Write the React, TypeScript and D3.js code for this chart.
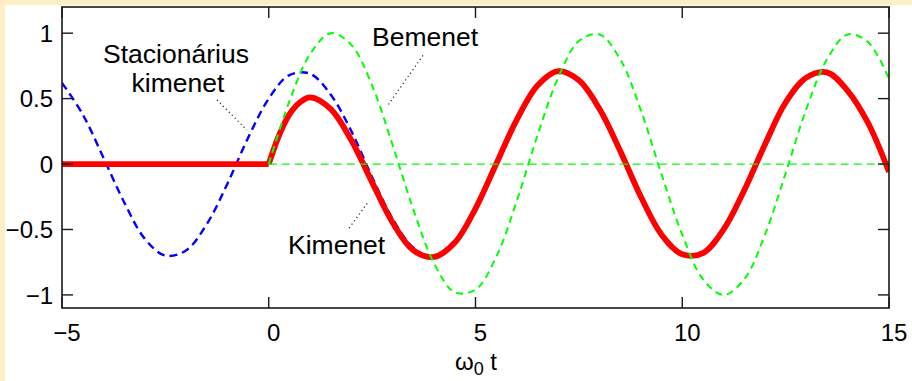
import React from "react";
import * as d3 from "d3";

// Time axis samples (ω0·t) for the steady-state response
const T_STEADY = [
  -5, -4.5, -4, -3.5, -3, -2.5, -2, -1.5, -1, -0.5, 0, 0.5, 1, 1.5, 2, 2.5, 3, 3.5, 4, 4.5,
  5, 5.5, 6, 6.5, 7, 7.5, 8, 8.5, 9, 9.5, 10, 10.5, 11, 11.5, 12, 12.5, 13, 13.5, 14, 14.5, 15,
];
// Stacionárius kimenet (blue dashed)
const STEADY = [
  0.62, 0.38, 0.05, -0.29, -0.57, -0.7, -0.66, -0.46, -0.15, 0.2, 0.5, 0.68, 0.69, 0.53, 0.25,
  -0.1, -0.42, -0.64, -0.71, -0.59, -0.34, 0.0, 0.34, 0.6, 0.71, 0.64, 0.42, 0.1, -0.25, -0.54,
  -0.69, -0.68, -0.5, -0.2, 0.15, 0.47, 0.66, 0.7, 0.56, 0.31, -0.06,
];

// Bemenet (green dashed), switched on at t = 0
const T_INPUT = [
  0, 0.5, 1, 1.5, 2, 2.5, 3, 3.5, 4, 4.5, 5, 5.5, 6, 6.5, 7, 7.5, 8, 8.5, 9, 9.5, 10, 10.5, 11,
  11.5, 12, 12.5, 13, 13.5, 14, 14.5, 15,
];
const INPUT = [
  0, 0.48, 0.84, 1.0, 0.91, 0.6, 0.14, -0.35, -0.76, -0.98, -0.96, -0.71, -0.28, 0.22, 0.66,
  0.94, 0.99, 0.8, 0.41, -0.08, -0.54, -0.88, -1.0, -0.88, -0.54, -0.07, 0.42, 0.8, 0.99, 0.93,
  0.65,
];

// Kimenet (red, thick)
const T_OUTPUT = [
  -5, 0, 0.25, 0.5, 0.75, 1, 1.5, 2, 2.5, 3, 3.5, 4, 4.5, 5, 5.5, 6, 6.5, 7, 7.5, 8, 8.5, 9, 9.5,
  10, 10.5, 11, 11.5, 12, 12.5, 13, 13.5, 14, 14.5, 15,
];
const OUTPUT = [
  0, 0, 0.22, 0.38, 0.47, 0.51, 0.42, 0.18, -0.14, -0.45, -0.66, -0.71, -0.6, -0.34, 0.0, 0.34,
  0.6, 0.71, 0.64, 0.42, 0.1, -0.25, -0.54, -0.69, -0.68, -0.5, -0.2, 0.15, 0.47, 0.66, 0.7, 0.56,
  0.31, -0.06,
];

const X_TICKS = [-5, 0, 5, 10, 15];
const X_TICK_LABELS = ["\u22125", "0", "5", "10", "15"];
const Y_TICKS = [-1, -0.5, 0, 0.5, 1];
const Y_TICK_LABELS = ["\u22121", "\u22120.5", "0", "0.5", "1"];

const W = 912;
const H = 381;
const FONT = "'Liberation Sans', Arial, Helvetica, sans-serif";

export default function App() {
  const left = 62;
  const right = 889;
  const top = 7;
  const bottom = 308;

  const x = d3.scaleLinear().domain([-5, 15]).range([left, right]);
  const y = d3.scaleLinear().domain([-1.1, 1.2]).range([bottom, top]);

  const smooth = d3
    .line<[number, number]>()
    .x((d) => x(d[0]))
    .y((d) => y(d[1]))
    .curve(d3.curveCatmullRom.alpha(0.5));
  const straight = d3
    .line<[number, number]>()
    .x((d) => x(d[0]))
    .y((d) => y(d[1]));

  const steadyPts = T_STEADY.map((t, i) => [t, STEADY[i]] as [number, number]);
  const inputPts = T_INPUT.map((t, i) => [t, INPUT[i]] as [number, number]);
  const outputPts = T_OUTPUT.map((t, i) => [t, OUTPUT[i]] as [number, number]);
  const switchIdx = T_OUTPUT.indexOf(0);
  const outputOff = outputPts.slice(0, switchIdx + 1);
  const outputOn = outputPts.slice(switchIdx);

  const tickLen = 11;
  const axisColor = "#1a1a1a";

  // Leader lines for the annotations, in data coordinates
  const leaders: [number, number, number, number][] = [
    [-1.25, 0.49, -0.53, 0.26],
    [3.73, 0.83, 2.86, 0.44],
    [2.38, -0.3, 1.92, -0.5],
  ];

  return (
    <svg
      width={W}
      height={H}
      style={{ position: "absolute", left: 0, top: 0, display: "block" }}
      fontFamily={FONT}
    >
      <rect x={0} y={0} width={W} height={H} fill="#fcefc6" />
      <rect x={5} y={5} width={W - 5} height={H - 5} fill="#ffffff" />

      <defs>
        <clipPath id="plotClip">
          <rect x={left} y={top} width={right - left} height={bottom - top} />
        </clipPath>
      </defs>

      <g clipPath="url(#plotClip)">
        {/* steady-state output */}
        <path
          d={smooth(steadyPts) ?? ""}
          fill="none"
          stroke="#0000ff"
          strokeWidth={2.4}
          strokeDasharray="8,5"
        />
        {/* transient output */}
        <path
          d={straight(outputOff) ?? ""}
          fill="none"
          stroke="#ff0000"
          strokeWidth={5.8}
        />
        <path
          d={smooth(outputOn) ?? ""}
          fill="none"
          stroke="#ff0000"
          strokeWidth={5.8}
          strokeLinejoin="round"
        />
        {/* zero reference and input */}
        <line
          x1={x(0)}
          x2={x(15)}
          y1={y(0)}
          y2={y(0)}
          stroke="#00ff00"
          strokeWidth={1.3}
          strokeDasharray="8,5"
        />
        <path
          d={smooth(inputPts) ?? ""}
          fill="none"
          stroke="#00ff00"
          strokeWidth={2}
          strokeDasharray="7,5"
        />
      </g>

      {/* frame */}
      <rect
        x={left}
        y={top}
        width={right - left}
        height={bottom - top}
        fill="none"
        stroke={axisColor}
        strokeWidth={1.6}
      />

      {/* ticks, mirrored on all four sides */}
      {X_TICKS.map((t) => (
        <g key={`xt${t}`}>
          <line x1={x(t)} x2={x(t)} y1={bottom} y2={bottom - tickLen} stroke={axisColor} strokeWidth={1.4} />
          <line x1={x(t)} x2={x(t)} y1={top} y2={top + tickLen} stroke={axisColor} strokeWidth={1.4} />
        </g>
      ))}
      {Y_TICKS.map((v) => (
        <g key={`yt${v}`}>
          <line x1={left} x2={left + tickLen} y1={y(v)} y2={y(v)} stroke={axisColor} strokeWidth={1.4} />
          <line x1={right} x2={right - tickLen} y1={y(v)} y2={y(v)} stroke={axisColor} strokeWidth={1.4} />
        </g>
      ))}

      {/* tick labels */}
      {X_TICKS.map((t, i) => (
        <text key={`xl${t}`} x={x(t) + 5} y={341} fontSize={24} textAnchor="middle" fill="#000">
          {X_TICK_LABELS[i]}
        </text>
      ))}
      {Y_TICKS.map((v, i) => (
        <text
          key={`yl${v}`}
          x={53}
          y={y(v)}
          dy="0.36em"
          fontSize={24}
          textAnchor="end"
          fill="#000"
        >
          {Y_TICK_LABELS[i]}
        </text>
      ))}

      {/* axis label */}
      <text x={476} y={370} fontSize={24} textAnchor="middle" fill="#000">
        <tspan>ω</tspan>
        <tspan fontSize={18} dy={5}>0</tspan>
        <tspan dy={-5}> t</tspan>
      </text>

      {/* annotations */}
      {leaders.map(([a, b, c, d], i) => (
        <line
          key={`ld${i}`}
          x1={x(a)}
          y1={y(b)}
          x2={x(c)}
          y2={y(d)}
          stroke="#222"
          strokeWidth={1.2}
          strokeDasharray="1.2,3"
        />
      ))}
      <text x={176} y={63} fontSize={26.5} textAnchor="middle" fill="#000">
        Stacionárius
      </text>
      <text x={178} y={92} fontSize={26.5} textAnchor="middle" fill="#000">
        kimenet
      </text>
      <text x={372} y={46} fontSize={26.5} fill="#000">
        Bemenet
      </text>
      <text x={288} y={254} fontSize={26.5} fill="#000">
        Kimenet
      </text>
    </svg>
  );
}
